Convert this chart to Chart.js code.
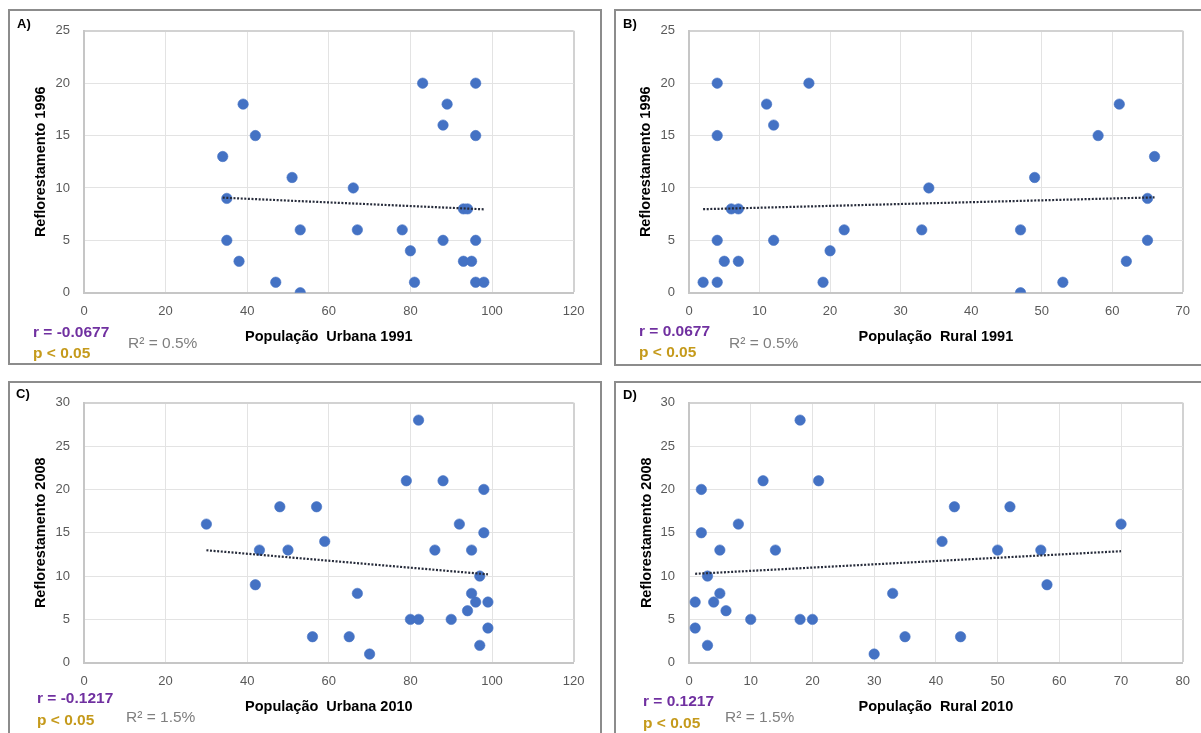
<!DOCTYPE html>
<html>
<head>
<meta charset="utf-8">
<script src="https://cdn.jsdelivr.net/npm/chart.js@4.4.1/dist/chart.umd.min.js"></script>
<style>
  html, body { margin:0; padding:0; background:#fff; }
  body { width:1201px; height:733px; overflow:hidden; position:relative; font-family:"Liberation Sans", Arial, sans-serif; }
  .panel { position:absolute; border:2px solid #8c8c8c; box-sizing:border-box; }
  canvas.c { position:absolute; }
  .t { position:absolute; white-space:pre; line-height:18px; height:18px; }
  .lab { font-weight:bold; font-size:13px; color:#000; }
  .r { font-weight:bold; font-size:15.5px; color:#7030A0; }
  .p { font-weight:bold; font-size:15.5px; color:#C59A1B; }
  .r2 { font-size:15.5px; color:#7f7f7f; }
</style>
</head>
<body>
<script>
// ---------- DATA ----------
// Panel A: População Urbana 1991 vs Reflorestamento 1996
const urban1991      = [34, 35, 35, 38, 39, 42, 47, 51, 53, 53, 66, 67, 78, 80, 81, 83, 88, 88, 89, 93, 94, 93, 95, 96, 96, 96, 96, 98];
const refl1996Urban  = [13,  9,  5,  3, 18, 15,  1, 11,  6,  0, 10,  6,  6,  4,  1, 20, 16,  5, 18,  8,  8,  3,  3, 20, 15,  5,  1,  1];
// Panel B: População Rural 1991 vs Reflorestamento 1996
const rural1991      = [66, 65, 65, 62, 61, 58, 53, 49, 47, 47, 34, 33, 22, 20, 19, 17, 12, 12, 11,  7,  6,  7,  5,  4,  4,  4,  4,  2];
const refl1996Rural  = [13,  9,  5,  3, 18, 15,  1, 11,  6,  0, 10,  6,  6,  4,  1, 20, 16,  5, 18,  8,  8,  3,  3, 20, 15,  5,  1,  1];
// Panel C: População Urbana 2010 vs Reflorestamento 2008
const urban2010      = [30, 42, 43, 48, 50, 56, 57, 59, 65, 67, 70, 79, 80, 82, 82, 86, 88, 90, 92, 94, 95, 95, 96, 97, 97, 98, 98, 99, 99];
const refl2008Urban  = [16,  9, 13, 18, 13,  3, 18, 14,  3,  8,  1, 21,  5, 28,  5, 13, 21,  5, 16,  6, 13,  8,  7, 10,  2, 20, 15,  7,  4];
// Panel D: População Rural 2010 vs Reflorestamento 2008
const rural2010      = [70, 58, 57, 52, 50, 44, 43, 41, 35, 33, 30, 21, 20, 18, 18, 14, 12, 10,  8,  6,  5,  5,  4,  3,  3,  2,  2,  1,  1];
const refl2008Rural  = [16,  9, 13, 18, 13,  3, 18, 14,  3,  8,  1, 21,  5, 28,  5, 13, 21,  5, 16,  6, 13,  8,  7, 10,  2, 20, 15,  7,  4];

// Trend lines (endpoints)
const trendAX = [34, 98];  const trendAY = [9.07, 7.96];
const trendBX = [2, 66];   const trendBY = [7.97, 9.10];
const trendCX = [30, 99];  const trendCY = [12.98, 10.20];
const trendDX = [1, 70];   const trendDY = [10.26, 12.87];

// Tick labels
const ticksUrban   = [0, 20, 40, 60, 80, 100, 120];
const ticksRural91 = [0, 10, 20, 30, 40, 50, 60, 70];
const ticksRural10 = [0, 10, 20, 30, 40, 50, 60, 70, 80];
const ticksRefl96  = [0, 5, 10, 15, 20, 25];
const ticksRefl08  = [0, 5, 10, 15, 20, 25, 30];

// Texts
const panelLabels = ['A)', 'B)', 'C)', 'D)'];
const xTitles = ['População  Urbana 1991', 'População  Rural 1991', 'População  Urbana 2010', 'População  Rural 2010'];
const yTitles = ['Reflorestamento 1996', 'Reflorestamento 1996', 'Reflorestamento 2008', 'Reflorestamento 2008'];
const rTexts  = ['r = -0.0677', 'r = 0.0677', 'r = -0.1217', 'r = 0.1217'];
const pTexts  = ['p < 0.05', 'p < 0.05', 'p < 0.05', 'p < 0.05'];
const r2Texts = ['R\u00B2 = 0.5%', 'R\u00B2 = 0.5%', 'R\u00B2 = 1.5%', 'R\u00B2 = 1.5%'];

// ---------- LAYOUT ----------
const panels = [
  { box:[8,9,602,365],   canvas:[8,9,594,356],   area:[84,28,573.6,292.7],  xs:urban1991, ys:refl1996Urban, tx:trendAX, ty:trendAY, xt:ticksUrban,   yt:ticksRefl96, xTitleCy:337,   yTitleCx:40.8,  label:[17,23.5],  r:[33,331.7],  p:[33,353.3],  r2:[128,342.7] },
  { box:[614,9,1204,366],canvas:[614,9,587,357], area:[689,28,1183.3,292.7],xs:rural1991, ys:refl1996Rural, tx:trendBX, ty:trendBY, xt:ticksRural91, yt:ticksRefl96, xTitleCy:336.7, yTitleCx:645.8, label:[623,23.5], r:[639,330.5], p:[639,352],   r2:[729,342.5] },
  { box:[8,381,602,745], canvas:[8,381,594,352], area:[84,398.3,573.6,662.7],xs:urban2010, ys:refl2008Urban, tx:trendCX, ty:trendCY, xt:ticksUrban,   yt:ticksRefl08, xTitleCy:706.7, yTitleCx:40.8,  label:[16,394],   r:[37,697.7],  p:[37,720],    r2:[126,716.7] },
  { box:[614,381,1204,745],canvas:[614,381,587,352],area:[689,398.3,1183.3,662.7],xs:rural2010, ys:refl2008Rural, tx:trendDX, ty:trendDY, xt:ticksRural10, yt:ticksRefl08, xTitleCy:707.3, yTitleCx:646.5, label:[623,395],  r:[643,701],   p:[643,723],   r2:[725,716.7] }
];

const TICK_FONT = { family:'"Liberation Sans", Arial, sans-serif', size:13 };
const TITLE_SIZE = 14.5;
const TITLE_FONT = { family:'"Liberation Sans", Arial, sans-serif', size:TITLE_SIZE, weight:'bold', lineHeight:1.2 };
const TITLE_LH = TITLE_SIZE * 1.2;

function addText(cls, txt, x, cy) {
  const d = document.createElement('div');
  d.className = 't ' + cls;
  d.textContent = txt;
  d.style.left = x + 'px';
  d.style.top = (cy - 9) + 'px';
  document.body.appendChild(d);
}

function gridColor(ctx, ticks) {
  return ctx.tick && ctx.tick.value === ticks[ticks.length - 1] ? '#d2d2d2' : '#e3e3e3';
}
function gridWidth(ctx, ticks) {
  return ctx.tick && ctx.tick.value === ticks[ticks.length - 1] ? 2 : 1;
}

panels.forEach((P, i) => {
  const box = document.createElement('div');
  box.className = 'panel';
  box.style.left = P.box[0] + 'px';
  box.style.top = P.box[1] + 'px';
  box.style.width = (P.box[2] - P.box[0]) + 'px';
  box.style.height = (P.box[3] - P.box[1]) + 'px';
  document.body.appendChild(box);

  const [cl, ct, cw, ch] = P.canvas;
  const cv = document.createElement('canvas');
  cv.className = 'c';
  cv.width = cw; cv.height = ch;
  cv.style.left = cl + 'px'; cv.style.top = ct + 'px';
  cv.style.width = cw + 'px'; cv.style.height = ch + 'px';
  document.body.appendChild(cv);

  const yScaleWidth = P.area[0] - cl;
  const xScaleHeight = ct + ch - P.area[3];
  const padTop = P.area[1] - ct;
  const padRight = cl + cw - P.area[2];
  const xTitlePad = (ct + ch - P.xTitleCy) - TITLE_LH / 2;
  const yTitlePad = (P.yTitleCx - cl) - TITLE_LH / 2;

  const points = P.xs.map((x, k) => ({ x: x, y: P.ys[k] }));
  const trend = P.tx.map((x, k) => ({ x: x, y: P.ty[k] }));

  new Chart(cv, {
    type: 'scatter',
    data: {
      datasets: [
        { type:'line', data: trend, borderColor:'#262b3a', borderWidth:2.2, borderDash:[2,1.6],
          pointRadius:0, fill:false, tension:0, order:0 },
        { type:'scatter', data: points, backgroundColor:'#4472C4', borderColor:'#4472C4',
          borderWidth:0.6, pointRadius:5.2, order:1 }
      ]
    },
    options: {
      responsive:false, animation:false, devicePixelRatio:1,
      layout: { padding: { top: padTop, right: padRight, left: 0, bottom: 0 } },
      plugins: { legend:{ display:false }, tooltip:{ enabled:false }, title:{ display:false } },
      scales: {
        x: {
          type:'linear', position:'bottom',
          min: P.xt[0], max: P.xt[P.xt.length - 1],
          afterBuildTicks: s => { s.ticks = P.xt.map(v => ({ value: v })); },
          afterFit: s => { s.height = xScaleHeight; },
          ticks: { font: TICK_FONT, color:'#595959', padding: 11, maxRotation:0, autoSkip:false },
          grid: { drawTicks:false, color: c => gridColor(c, P.xt), lineWidth: c => gridWidth(c, P.xt) },
          border: { display:true, color:'#c6c6c6', width:2 },
          title: { display:true, text: xTitles[i], font: TITLE_FONT, color:'#000',
                   padding: { top: 0, bottom: xTitlePad } }
        },
        y: {
          type:'linear', position:'left',
          min: P.yt[0], max: P.yt[P.yt.length - 1],
          afterBuildTicks: s => { s.ticks = P.yt.map(v => ({ value: v })); },
          afterFit: s => { s.width = yScaleWidth; },
          ticks: { font: TICK_FONT, color:'#595959', padding: 14 },
          grid: { drawTicks:false, color: c => gridColor(c, P.yt), lineWidth: c => gridWidth(c, P.yt) },
          border: { display:true, color:'#c6c6c6', width:2 },
          title: { display:true, text: yTitles[i], font: TITLE_FONT, color:'#000',
                   padding: { top: yTitlePad, bottom: 0 } }
        }
      }
    }
  });

  addText('lab', panelLabels[i], P.label[0], P.label[1]);
  addText('r', rTexts[i], P.r[0], P.r[1]);
  addText('p', pTexts[i], P.p[0], P.p[1]);
  addText('r2', r2Texts[i], P.r2[0], P.r2[1]);
});
</script>
</body>
</html>
